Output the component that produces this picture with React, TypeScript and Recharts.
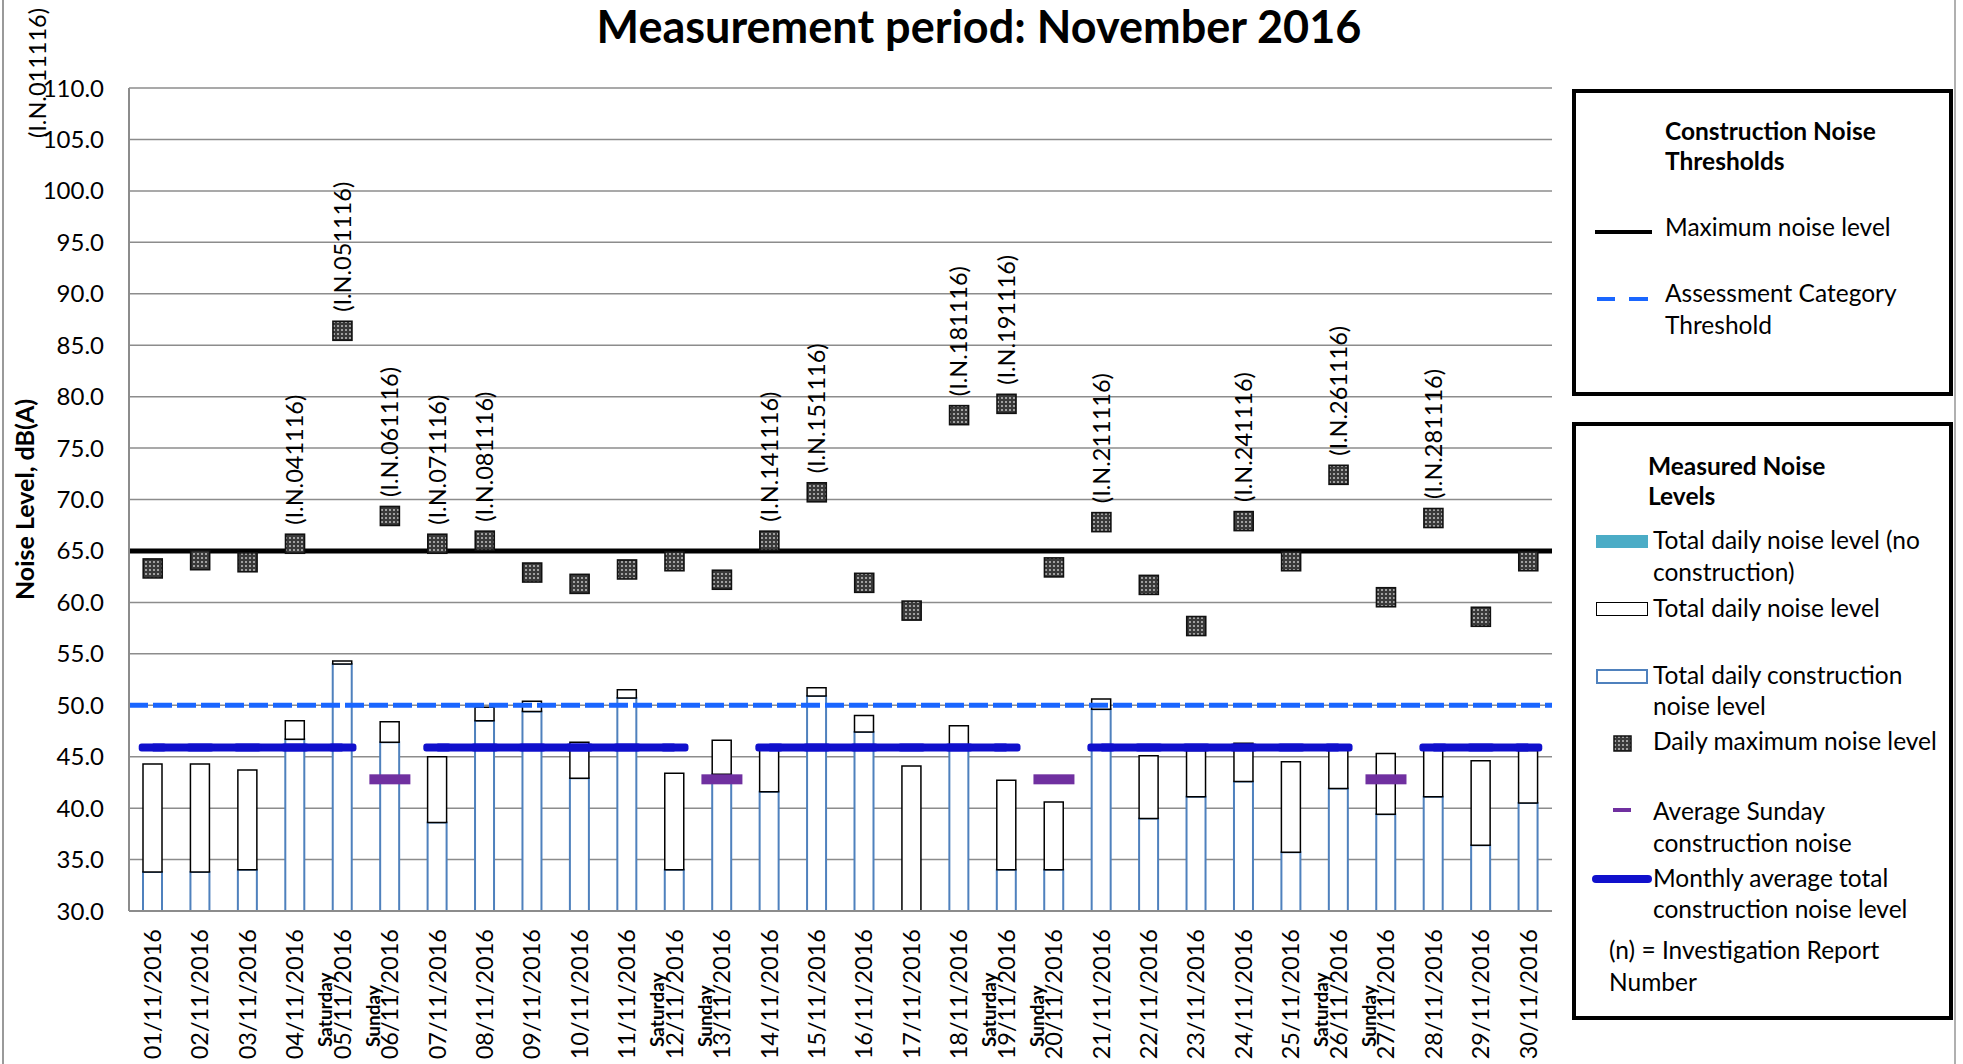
import React from "react";
import {
  ComposedChart,
  Bar,
  Line,
  Scatter,
  XAxis,
  YAxis,
  CartesianGrid,
  ReferenceLine,
  Label,
} from "recharts";

const dates = [
  "01/11/2016", "02/11/2016", "03/11/2016", "04/11/2016", "05/11/2016",
  "06/11/2016", "07/11/2016", "08/11/2016", "09/11/2016", "10/11/2016",
  "11/11/2016", "12/11/2016", "13/11/2016", "14/11/2016", "15/11/2016",
  "16/11/2016", "17/11/2016", "18/11/2016", "19/11/2016", "20/11/2016",
  "21/11/2016", "22/11/2016", "23/11/2016", "24/11/2016", "25/11/2016",
  "26/11/2016", "27/11/2016", "28/11/2016", "29/11/2016", "30/11/2016",
];

const dayNotes = [
  "", "", "", "", "Saturday", "Sunday", "", "", "", "",
  "", "Saturday", "Sunday", "", "", "", "", "", "Saturday", "Sunday",
  "", "", "", "", "", "Saturday", "Sunday", "", "", "",
];

// total daily noise level, dB(A)
const totalLevel = [
  44.3, 44.3, 43.7, 48.5, 54.3, 48.4, 45.0, 49.8, 50.4, 46.4,
  51.5, 43.4, 46.6, 45.8, 51.7, 49.0, 44.1, 48.0, 42.7, 40.6,
  50.6, 45.1, 45.6, 46.3, 44.5, 45.7, 45.3, 45.7, 44.6, 45.6,
];

// total daily construction noise level, dB(A)
const constructionLevel = [
  33.8, 33.8, 34.0, 46.7, 54.0, 46.4, 38.6, 48.5, 49.4, 42.9,
  50.7, 34.0, 43.3, 41.6, 50.9, 47.4, null, 46.0, 34.0, 34.0,
  49.6, 39.0, 41.1, 42.6, 35.7, 41.9, 39.4, 41.1, 36.4, 40.5,
];

// daily maximum noise level, dB(A)
const dailyMax = [
  63.3, 64.1, 63.9, 65.7, 86.4, 68.4, 65.7, 66.0, 62.9, 61.8,
  63.2, 64.0, 62.2, 66.0, 70.7, 61.9, 59.2, 78.2, 79.3, 63.4,
  67.8, 61.7, 57.7, 67.9, 64.0, 72.4, 60.5, 68.2, 58.6, 64.0,
];

const sundayAvg = [
  null, null, null, null, null, 42.8, null, null, null, null,
  null, null, 42.8, null, null, null, null, null, null, 42.8,
  null, null, null, null, null, null, 42.8, null, null, null,
];

const monthlyAvg = [
  45.9, 45.9, 45.9, 45.9, 45.9, null, 45.9, 45.9, 45.9, 45.9,
  45.9, 45.9, null, 45.9, 45.9, 45.9, 45.9, 45.9, 45.9, null,
  45.9, 45.9, 45.9, 45.9, 45.9, 45.9, null, 45.9, 45.9, 45.9,
];

const reports = [
  "(I.N.011116)", null, null, "(I.N.041116)", "(I.N.051116)",
  "(I.N.061116)", "(I.N.071116)", "(I.N.081116)", null, null,
  null, null, null, "(I.N.141116)", "(I.N.151116)",
  null, null, "(I.N.181116)", "(I.N.191116)", null,
  "(I.N.211116)", null, null, "(I.N.241116)", null,
  "(I.N.261116)", null, "(I.N.281116)", null, null,
];

const yTicks = [30, 35, 40, 45, 50, 55, 60, 65, 70, 75, 80, 85, 90, 95, 100, 105, 110];
const maxNoiseLevel = 65;
const assessmentThreshold = 50;

const data = dates.map((date, i) => ({
  date,
  note: dayNotes[i],
  construction: constructionLevel[i],
  rest: totalLevel[i] - (constructionLevel[i] ?? 0),
  max: dailyMax[i],
  sunday: sundayAvg[i],
  avg: monthlyAvg[i],
  report: reports[i],
}));

const FONT = "Lato, 'Open Sans', sans-serif";
const GRID = "#8c8c8c";
const AVG_BLUE = "#1010cc";
const PURPLE = "#7030a0";

function DateTick(props: any) {
  const { x, y, payload, index } = props;
  const note = dayNotes[index];
  return (
    <g>
      <text
        transform={`translate(${x},${y + 18}) rotate(-90)`}
        textAnchor="end"
        dy="0.35em"
        fontSize={23.5}
        fontFamily={FONT}
        fill="#000"
      >
        {payload.value}
      </text>
      {note ? (
        <text
          transform={`translate(${x - 17},${y + 136}) rotate(-90)`}
          textAnchor="start"
          dy="0.35em"
          fontSize={19}
          fontWeight={700}
          fontFamily={FONT}
          fill="#000"
        >
          {note}
        </text>
      ) : null}
    </g>
  );
}

function MaxMarker(props: any) {
  const { cx, cy, payload, index } = props;
  if (cx == null || cy == null) return <g />;
  // the first report label was moved to the top-left corner (drawn separately)
  const label = index === 0 ? null : payload.report;
  return (
    <g>
      <rect x={cx - 9.5} y={cy - 9.5} width={19} height={19} fill="url(#maxPattern)" stroke="#111" strokeWidth={1.6} />
      {label ? (
        <text
          transform={`translate(${cx},${cy - 19}) rotate(-90)`}
          textAnchor="start"
          dy="0.35em"
          fontSize={23.5}
          fontFamily={FONT}
          fill="#000"
        >
          {label}
        </text>
      ) : null}
    </g>
  );
}

function SundayMark(props: any) {
  const { cx, cy } = props;
  if (cx == null || cy == null) return <g />;
  return <rect x={cx - 20.5} y={cy - 5} width={41} height={10} fill={PURPLE} />;
}

function AvgDot(props: any) {
  const { cx, cy, index } = props;
  if (cx == null || cy == null || props.value == null) return <g key={`d${index}`} />;
  return <rect key={`d${index}`} x={cx - 14} y={cy - 4} width={28} height={8} rx={3} fill={AVG_BLUE} />;
}

function YTitle(props: any) {
  const { viewBox } = props;
  const cx = 25;
  const cy = viewBox.y + viewBox.height / 2;
  return (
    <text
      transform={`translate(${cx},${cy}) rotate(-90)`}
      textAnchor="middle"
      dy="0.35em"
      fontSize={25}
      fontWeight={700}
      fontFamily={FONT}
      fill="#000"
    >
      Noise Level, dB(A)
    </text>
  );
}

const legendText: React.CSSProperties = {
  position: "absolute",
  fontFamily: FONT,
  fontSize: 24.5,
  color: "#000",
  whiteSpace: "nowrap",
};

function Txt({ left, top, lh = 31, bold = false, lines }: { left: number; top: number; lh?: number; bold?: boolean; lines: string[] }) {
  return (
    <div style={{ ...legendText, left, top, lineHeight: `${lh}px`, fontWeight: bold ? 700 : 400 }}>
      {lines.map((l, i) => (
        <div key={i}>{l}</div>
      ))}
    </div>
  );
}

function Legends() {
  const box: React.CSSProperties = {
    position: "absolute",
    left: 1572,
    width: 1953 - 1572,
    border: "4px solid #000",
    boxSizing: "border-box",
    background: "#fff",
  };
  return (
    <>
      <div style={{ ...box, top: 89, height: 396 - 89 }} />
      <Txt left={1665} top={116} lh={30} bold lines={["Construction Noise", "Thresholds"]} />
      <div style={{ position: "absolute", left: 1595, top: 230, width: 57, height: 4, background: "#000" }} />
      <Txt left={1665} top={211} lines={["Maximum noise level"]} />
      <div style={{ position: "absolute", left: 1597, top: 297, width: 18, height: 4, background: "#1a66ff" }} />
      <div style={{ position: "absolute", left: 1629, top: 297, width: 19, height: 4, background: "#1a66ff" }} />
      <Txt left={1665} top={277} lh={32} lines={["Assessment Category", "Threshold"]} />

      <div style={{ ...box, top: 422, height: 1020 - 422 }} />
      <Txt left={1648} top={451} lh={30} bold lines={["Measured Noise", "Levels"]} />
      <div style={{ position: "absolute", left: 1596, top: 535, width: 52, height: 13, background: "#4bacc6" }} />
      <Txt left={1653} top={524} lh={32} lines={["Total daily noise level (no", "construction)"]} />
      <div style={{ position: "absolute", left: 1596, top: 602, width: 52, height: 14, border: "1.5px solid #000", boxSizing: "border-box" }} />
      <Txt left={1653} top={592} lines={["Total daily noise level"]} />
      <div style={{ position: "absolute", left: 1596, top: 669, width: 52, height: 15, border: "2px solid #4f81bd", boxSizing: "border-box" }} />
      <Txt left={1653} top={659} lines={["Total daily construction", "noise level"]} />
      <svg style={{ position: "absolute", left: 1613, top: 735 }} width={19} height={17}>
        <rect x={1} y={1} width={17} height={15} fill="url(#maxPatternLegend)" stroke="#111" strokeWidth={1.5} />
        <defs>
          <pattern id="maxPatternLegend" width={4} height={4} patternUnits="userSpaceOnUse">
            <rect width={4} height={4} fill="#3a3a3a" />
            <rect x={1} y={1} width={2} height={2} fill="#a0a0a0" />
          </pattern>
        </defs>
      </svg>
      <Txt left={1653} top={725} lines={["Daily maximum noise level"]} />
      <div style={{ position: "absolute", left: 1613, top: 808, width: 18, height: 4, background: PURPLE }} />
      <Txt left={1653} top={795} lh={32} lines={["Average Sunday", "construction noise"]} />
      <div style={{ position: "absolute", left: 1592, top: 875, width: 60, height: 8, borderRadius: 4, background: AVG_BLUE }} />
      <Txt left={1653} top={862} lines={["Monthly average total", "construction noise level"]} />
      <Txt left={1609} top={934} lh={32} lines={["(n) = Investigation Report", "Number"]} />
    </>
  );
}

export default function App() {
  return (
    <div style={{ position: "absolute", left: 0, top: 0, width: 1963, height: 1064, background: "#fff", overflow: "hidden" }}>
      <div style={{ position: "absolute", left: 2, top: 0, width: 2, height: 1064, background: "#9a9a9a" }} />
      <div style={{ position: "absolute", left: 1954, top: 0, width: 2, height: 1064, background: "#b0b0b0" }} />
      <div
        style={{
          position: "absolute",
          left: 0,
          top: 0,
          width: 1958,
          textAlign: "center",
          fontFamily: FONT,
          fontWeight: 700,
          fontSize: 45,
          lineHeight: "52px",
          color: "#000",
        }}
      >
        Measurement period: November 2016
      </div>
      <div style={{ position: "absolute", left: 0, top: 0 }}>
        <ComposedChart
          width={1963}
          height={1064}
          data={data}
          margin={{ top: 88, right: 411, bottom: 3, left: 0 }}
          barSize={19}
        >
          <defs>
            <pattern id="maxPattern" width={4} height={4} patternUnits="userSpaceOnUse">
              <rect width={4} height={4} fill="#3a3a3a" />
              <rect x={1} y={1} width={2} height={2} fill="#a0a0a0" />
            </pattern>
          </defs>
          <CartesianGrid horizontal vertical={false} stroke={GRID} strokeWidth={1.5} />
          <XAxis
            dataKey="date"
            interval={0}
            height={150}
            tickSize={0}
            tickMargin={0}
            tickLine={false}
            axisLine={{ stroke: GRID, strokeWidth: 2 }}
            tick={<DateTick />}
          />
          <YAxis
            width={129}
            domain={[30, 110]}
            ticks={yTicks}
            allowDataOverflow
            tickSize={0}
            tickMargin={25}
            tickLine={false}
            axisLine={{ stroke: GRID, strokeWidth: 2 }}
            tickFormatter={(v: number) => v.toFixed(1)}
            tick={{ fontSize: 24, fontFamily: FONT, fill: "#000" }}
          >
            <Label content={<YTitle />} />
          </YAxis>
          <Bar dataKey="construction" stackId="a" fill="#ffffff" stroke="#4f81bd" strokeWidth={2} isAnimationActive={false} />
          <Bar dataKey="rest" stackId="a" fill="#ffffff" stroke="#000000" strokeWidth={1.5} isAnimationActive={false} />
          <ReferenceLine y={assessmentThreshold} stroke="#1a66ff" strokeWidth={5} strokeDasharray="19 5" />
          <ReferenceLine y={maxNoiseLevel} stroke="#000" strokeWidth={5} />
          <Line
            dataKey="avg"
            stroke={AVG_BLUE}
            strokeWidth={8}
            dot={<AvgDot />}
            activeDot={false}
            connectNulls={false}
            isAnimationActive={false}
          />
          <Scatter dataKey="sunday" shape={<SundayMark />} isAnimationActive={false} />
          <Scatter dataKey="max" shape={<MaxMarker />} isAnimationActive={false} />
        </ComposedChart>
      </div>
      {/* first investigation-report label, dragged to the chart's top-left corner */}
      <svg style={{ position: "absolute", left: 0, top: 0 }} width={80} height={150}>
        <text
          transform="translate(38,138) rotate(-90)"
          textAnchor="start"
          dy="0.35em"
          fontSize={23.5}
          fontFamily={FONT}
          fill="#000"
        >
          {reports[0]}
        </text>
      </svg>
      <Legends />
    </div>
  );
}
